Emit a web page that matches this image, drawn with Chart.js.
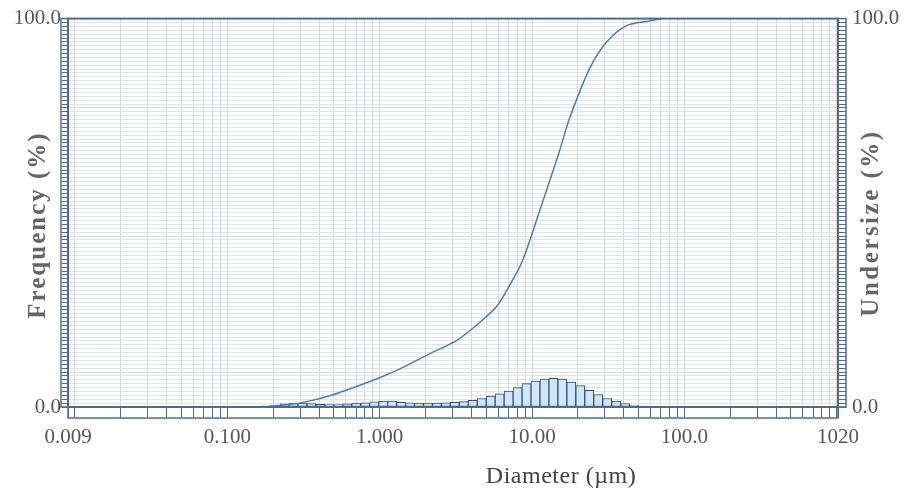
<!DOCTYPE html>
<html>
<head>
<meta charset="utf-8">
<script src="https://cdn.jsdelivr.net/npm/chart.js@4/dist/chart.umd.min.js"></script>
<style>
  html, body { margin: 0; padding: 0; background: #fff; }
</style>
</head>
<body>
<canvas id="chart" width="905" height="502"></canvas>
<script>
// histogram bins (bin centre diameter, um) and frequency (%)
let binDiameters = [0.1812, 0.2075, 0.2376, 0.2720, 0.3114, 0.3566, 0.4083, 0.4675, 0.5353, 0.6130,
    0.7019, 0.8036, 0.9202, 1.0540, 1.2069, 1.3819, 1.5823, 1.8117, 2.0749, 2.3757,
    2.7201, 3.1146, 3.5664, 4.0833, 4.6755, 5.3547, 6.1313, 7.0209, 8.0390, 9.2078,
    10.541, 12.070, 13.820, 15.823, 18.118, 20.749, 23.757, 27.201, 31.146, 35.664,
    40.833, 46.755, 53.547, 61.313, 70.209, 80.390, 92.078, 105.41]
let frequency = [0.3, 0.5, 0.8, 1.0, 1.0, 0.9, 0.7, 0.6, 0.6, 0.8,
    1.0, 1.1, 1.3, 1.5, 1.5, 1.2, 1.1, 1.0, 1.0, 1.0,
    1.1, 1.2, 1.4, 1.7, 2.2, 2.8, 3.4, 4.1, 5.0, 6.0,
    6.7, 7.2, 7.4, 7.2, 6.4, 5.5, 4.3, 3.2, 2.2, 1.5,
    0.9, 0.45, 0.25, 0.2, 0.15, 0.1, 0.1, 0.05]

// cumulative undersize curve
let cumDiameters = [0.175, 0.297, 0.489, 0.98, 1.39, 2.03, 3.19, 4.3, 5.84, 7.1, 8.65,
    11.2, 15.1, 17.6, 23.8, 30.8, 41.7, 59.0, 71.8]
let undersize = [0, 1.0, 3.1, 7.4, 10.0, 13.3, 17.1, 21.0, 25.8, 31.2, 37.6,
    50.4, 65.7, 74.2, 87.0, 93.9, 98.2, 99.4, 100]

// x axis labels
let xLabelValues = [0.009, 0.1, 1, 10, 100, 1020]
let xLabelTexts = ['0.009', '0.100', '1.000', '10.00', '100.0', '1020']

const serif = "'Liberation Serif', 'Times New Roman', serif"
const frameColor = '#4f6a8f'

// log grid: 1..9 x each decade, plus the two ends
const logTicks = () => {
    let t = [0.009]
    for (let p = -2; p <= 2; p++) {
        for (let m = 1; m <= 9; m++) t.push(m * Math.pow(10, p))
    }
    t.push(1000, 1020)
    return t.map(v => ({ value: v }))
}

const drawText = (ctx, text, x, y, font, color, spacing, rot) => {
    ctx.save()
    ctx.translate(x, y)
    ctx.rotate(rot)
    ctx.font = font
    ctx.fillStyle = color
    ctx.textAlign = 'center'
    ctx.textBaseline = 'middle'
    if ('letterSpacing' in ctx) ctx.letterSpacing = spacing
    ctx.fillText(text, 0, 0)
    ctx.restore()
}

const frame = {
    id: 'frame',
    afterDraw(chart) {
        const { ctx, chartArea: a } = chart
        ctx.save()
        ctx.strokeStyle = frameColor
        ctx.lineWidth = 2
        ctx.strokeRect(a.left, a.top, a.right - a.left, a.bottom - a.top)
        ctx.lineWidth = 1.5
        ctx.strokeRect(a.left - 7, a.top, 7, a.bottom - a.top)
        ctx.strokeRect(a.right, a.top, 8, a.bottom - a.top)
        ctx.strokeRect(a.left, a.bottom, a.right - a.left, 11)
        ctx.restore()

        // axis titles
        drawText(ctx, 'Frequency (%)', 39, 225, "bold 25px " + serif, '#666', '2px', -Math.PI / 2)
        drawText(ctx, 'Undersize (%)', 872, 223, "bold 25px " + serif, '#666', '2.5px', -Math.PI / 2)
        drawText(ctx, 'Diameter (\u00b5m)', 561, 477, "24px " + serif, '#444', '0.5px', 0)
    }
}

let ctx = document.getElementById('chart').getContext('2d')
let chart = new Chart(ctx, {
    type: 'bar',
    data: {
        datasets: [{
            type: 'line',
            label: 'Undersize',
            data: cumDiameters.map((d, i) => ({ x: d, y: undersize[i] })),
            yAxisID: 'y2',
            borderColor: '#4a7cba',
            borderWidth: 1.5,
            pointRadius: 0,
            tension: 0.3,
            order: 0
        }, {
            label: 'Frequency',
            data: binDiameters.map((d, i) => ({ x: d, y: frequency[i] })),
            yAxisID: 'y',
            backgroundColor: '#d3e6f7',
            borderColor: '#2a4d82',
            borderWidth: 1,
            borderSkipped: false,
            barThickness: 9,
            order: 1
        }]
    },
    options: {
        responsive: false,
        animation: false,
        layout: { padding: { top: 16, left: 0, right: 0, bottom: 0 } },
        plugins: {
            legend: { display: false },
            tooltip: { enabled: false }
        },
        scales: {
            x: {
                type: 'logarithmic',
                min: 0.009,
                max: 1020,
                offset: false,
                afterBuildTicks: s => { s.ticks = logTicks() },
                afterFit: s => { s.height = 95 },
                grid: { offset: false, color: '#d3d8de', tickColor: frameColor, tickLength: 10 },
                border: { display: false },
                ticks: {
                    autoSkip: false,
                    maxRotation: 0,
                    padding: 8,
                    color: '#555',
                    font: { family: serif, size: 21 },
                    callback: v => {
                        let i = xLabelValues.findIndex(x => Math.abs(x - v) < 1e-9)
                        return i >= 0 ? xLabelTexts[i] : ''
                    }
                }
            },
            y: {
                position: 'left',
                min: 0,
                max: 100,
                afterFit: s => { s.width = 68 },
                grid: { color: '#e0e4e8', tickColor: frameColor, tickLength: 6 },
                border: { display: false },
                ticks: {
                    stepSize: 1,
                    autoSkip: false,
                    padding: 1,
                    color: '#555',
                    font: { family: serif, size: 21 },
                    callback: v => (v === 0 || v === 100) ? v.toFixed(1) : ''
                }
            },
            y2: {
                position: 'right',
                min: 0,
                max: 100,
                afterFit: s => { s.width = 67 },
                grid: { drawOnChartArea: false, tickColor: frameColor, tickLength: 8 },
                border: { display: false },
                ticks: {
                    stepSize: 1,
                    autoSkip: false,
                    padding: 6,
                    color: '#555',
                    font: { family: serif, size: 21 },
                    callback: v => (v === 0 || v === 100) ? v.toFixed(1) : ''
                }
            }
        }
    },
    plugins: [frame]
})
</script>
</body>
</html>
